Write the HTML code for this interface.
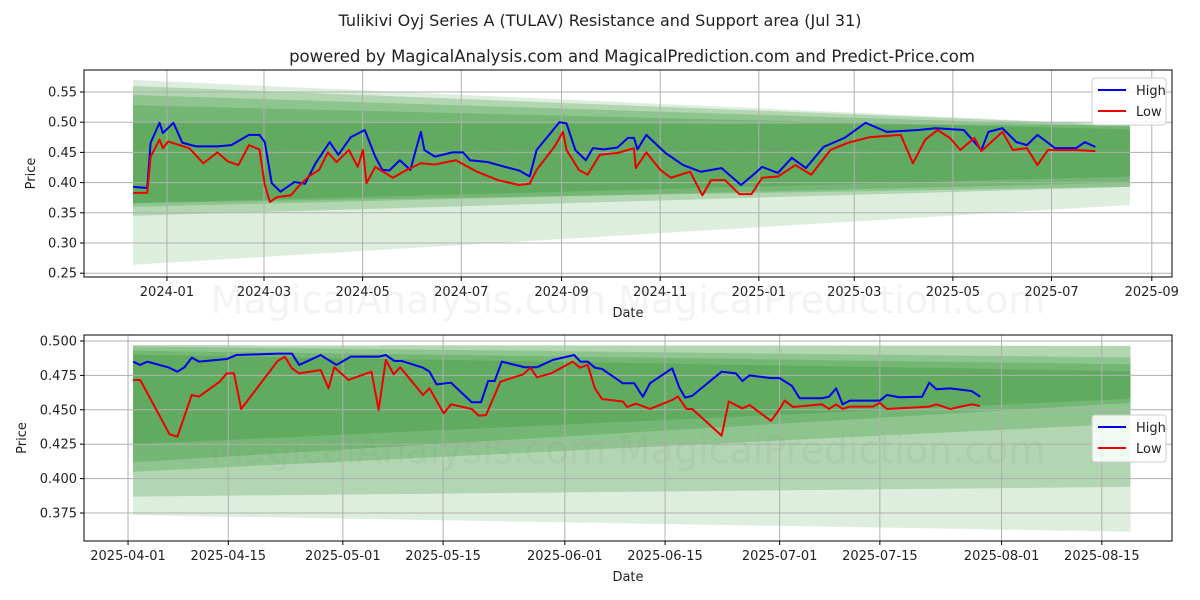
<!DOCTYPE html>
<html><head><meta charset="utf-8"><style>
body{margin:0;background:#fff}
svg{display:block;font-family:"DejaVu Sans","Liberation Sans",sans-serif}
</style></head><body>
<svg id="c" width="1200" height="600" viewBox="0 0 1200 600">
<text x="600" y="26" text-anchor="middle" font-size="16" fill="#222">Tulikivi Oyj Series A (TULAV) Resistance and Support area (Jul 31)</text>
<text x="632" y="62" text-anchor="middle" font-size="16.5" fill="#222">powered by MagicalAnalysis.com and MagicalPrediction.com and Predict-Price.com</text>
</svg>
<script>
// ---------- Top chart data (days from 2024-01-01) ----------
const topHighDays=[-20.9,-12.2,-10.1,-4.6,-2.5,4.0,9.5,18.1,31.2,39.8,50.7,57.2,60.5,64.8,70.2,78.9,85.4,91.9,100.6,106.0,113.6,122.3,128.8,133.2,137.5,144.0,150.5,157.0,159.2,165.7,176.6,183.1,187.4,198.3,209.1,217.8,224.3,228.6,235.1,242.7,247.1,252.5,259.0,263.4,269.9,278.5,285.1,288.8,291,296.4,308.3,319.2,330,343,355,362.6,368,377.8,386.4,395.1,406,419,432,445,464.5,475.4,492.8,503.6,508,516.6,525.3,531.8,538.3,549.2,562.2,567.6,574.1];
const topHighVals=[0.393,0.391,0.466,0.499,0.482,0.499,0.466,0.460,0.460,0.462,0.479,0.479,0.467,0.399,0.385,0.401,0.398,0.432,0.467,0.446,0.475,0.487,0.443,0.421,0.420,0.437,0.421,0.484,0.454,0.443,0.450,0.450,0.437,0.434,0.426,0.420,0.410,0.454,0.475,0.500,0.498,0.454,0.437,0.457,0.455,0.458,0.474,0.474,0.455,0.479,0.449,0.429,0.418,0.424,0.396,0.413,0.426,0.416,0.441,0.424,0.459,0.474,0.499,0.484,0.487,0.490,0.487,0.454,0.484,0.490,0.467,0.462,0.479,0.457,0.457,0.467,0.459];
const topLowDays=[-20.9,-12.2,-10.1,-4.6,-2.5,0.8,13.8,22.5,31.2,37.7,44.2,50.7,57.2,60.5,63.7,68.1,76.7,81.1,87.6,94.1,99.5,104.9,112.5,118,121.2,123.4,128.8,139.7,148.3,157,165.7,178.7,191.7,204.8,217.8,224.3,228.6,239.5,244.9,247.1,254.7,260.1,267.7,278.5,288.8,289.9,296.4,305.1,311.6,323.5,331.1,336.5,345.2,353.9,361.5,368,377.8,388.6,398.4,410.3,421.2,434.2,453.7,461.3,468.9,476.5,484.1,490.6,499.3,503.6,516.6,523.1,531.8,538.3,544.8,562.2,574.1];
const topLowVals=[0.383,0.383,0.443,0.471,0.457,0.468,0.457,0.432,0.450,0.435,0.429,0.462,0.455,0.396,0.368,0.376,0.379,0.393,0.410,0.421,0.450,0.434,0.454,0.426,0.454,0.399,0.426,0.408,0.421,0.432,0.430,0.437,0.418,0.404,0.396,0.398,0.421,0.459,0.484,0.454,0.421,0.413,0.446,0.449,0.457,0.424,0.450,0.421,0.408,0.418,0.379,0.404,0.404,0.381,0.381,0.408,0.410,0.429,0.413,0.454,0.466,0.475,0.479,0.432,0.471,0.487,0.474,0.454,0.474,0.452,0.484,0.454,0.457,0.429,0.454,0.454,0.452];
const topBandStart=-21, topBandEnd=595.5;
const topBandTopL=[0.570,0.560,0.545,0.528,0.500];
const topBandTopR=[0.495,0.495,0.493,0.488,0.495];
const topBandBotL=[0.264,0.345,0.360,0.366,0.366];
const topBandBotR=[0.363,0.393,0.400,0.410,0.393];
const topYTicks=[0.25,0.30,0.35,0.40,0.45,0.50,0.55];
const topXTickDays=[0,60,121,182,244,305,366,425,486,547,609];
const topXTickLabels=["2024-01","2024-03","2024-05","2024-07","2024-09","2024-11","2025-01","2025-03","2025-05","2025-07","2025-09"];
// ---------- Bottom chart data (days from 2025-04-01) ----------
const botHighDays=[0.7,1.7,2.7,5.6,6.9,7.9,8.9,9.9,13.8,15.1,20.9,22.9,23.9,26.9,29.1,31.1,35,36,37.2,38.2,41.2,42.1,43.1,45.1,48,49.3,50.3,51.2,52.2,55.4,57.1,59.3,62.3,63.2,64.2,65.2,66.2,69.1,70.7,71.9,72.9,76,77,77.8,78.8,82.9,84.9,85.8,86.8,89.8,91,92.7,93.8,96.9,97.9,98.9,99.8,100.8,105,106,107.7,110.9,111.9,112.9,114.8,117.8,119];
const botHighVals=[0.485,0.4826,0.485,0.4809,0.4777,0.481,0.4879,0.485,0.4869,0.4898,0.4908,0.4908,0.4826,0.4898,0.4826,0.4886,0.4886,0.4898,0.4855,0.4855,0.4806,0.4777,0.4685,0.4697,0.4555,0.4555,0.4709,0.4709,0.485,0.4809,0.4809,0.4862,0.4898,0.485,0.485,0.4806,0.4797,0.4693,0.4693,0.4595,0.4693,0.4801,0.4661,0.4588,0.4602,0.4777,0.4765,0.4709,0.475,0.473,0.473,0.4675,0.4584,0.4584,0.4595,0.4656,0.454,0.4567,0.4567,0.4608,0.4591,0.4595,0.4697,0.4649,0.4656,0.4637,0.4595];
const botLowDays=[0.7,1.7,5.8,6.9,8.9,9.9,12.8,13.8,14.8,15.8,20.9,21.9,22.9,23.9,26.9,28,28.8,30.8,34,35,36,37.1,38,41.2,42.1,44.1,45.1,48,49,50,52,55.2,56.2,57.1,59.1,62.1,63.1,64.2,65.2,66.2,69.1,69.7,70.9,72.9,76,76.8,78,78.8,82.9,83.9,85.8,86.8,89.8,91,91.7,92.9,96.9,97.9,98.9,99.8,100.8,104,105,106,111.9,112.9,114.8,117.8,119];
const botLowVals=[0.4717,0.4717,0.4322,0.4305,0.4608,0.4596,0.4704,0.4765,0.4765,0.4506,0.4855,0.4886,0.4801,0.4765,0.4789,0.4656,0.4809,0.4717,0.4777,0.4499,0.4862,0.4758,0.4809,0.4608,0.4656,0.4474,0.454,0.4506,0.4457,0.4462,0.4704,0.4758,0.4806,0.4736,0.4765,0.485,0.4806,0.4826,0.4656,0.4578,0.456,0.452,0.4545,0.4506,0.4572,0.4596,0.4506,0.4506,0.4312,0.456,0.451,0.4535,0.4419,0.4506,0.4567,0.452,0.454,0.4506,0.454,0.4506,0.4523,0.4523,0.455,0.4506,0.4523,0.454,0.4506,0.454,0.4528];
const botBandStart=0.7, botBandEnd=140;
const botBandTopL=[0.497,0.497,0.496,0.493,0.490];
const botBandTopR=[0.4965,0.4965,0.488,0.483,0.478];
const botBandBotL=[0.3735,0.3869,0.405,0.412,0.425];
const botBandBotR=[0.3614,0.394,0.440,0.455,0.458];
const botYTicks=[0.375,0.400,0.425,0.450,0.475,0.500];
const botYTickLabels=["0.375","0.400","0.425","0.450","0.475","0.500"];
const botXTickDays=[0,14,30,44,61,75,91,105,122,136];
const botXTickLabels=["2025-04-01","2025-04-15","2025-05-01","2025-05-15","2025-06-01","2025-06-15","2025-07-01","2025-07-15","2025-08-01","2025-08-15"];

const NS="http://www.w3.org/2000/svg";
const svg=document.getElementById('c');
function mk(tag,attrs,parent){const e=document.createElementNS(NS,tag);for(const k in attrs)e.setAttribute(k,attrs[k]);(parent||svg).appendChild(e);return e;}

function drawChart(cfg){
  const {L,R,T,B,x0,x1,y0,y1}=cfg;
  const sx=d=>L+(d-x0)/(x1-x0)*(R-L);
  const sy=v=>B-(v-y0)/(y1-y0)*(B-T);
  const g=mk('g',{});
  
  
  for(let i=0;i<cfg.bTL.length;i++){
    const p=mk('polygon',{points:`${sx(cfg.bs)},${sy(cfg.bTL[i])} ${sx(cfg.be)},${sy(cfg.bTR[i])} ${sx(cfg.be)},${sy(cfg.bBR[i])} ${sx(cfg.bs)},${sy(cfg.bBL[i])}`,fill:'#228b22','fill-opacity':i==0?0.15:0.24},g);
    
    
  }
  cfg.yt.forEach(v=>{const l=mk('line',{x1:L,x2:R,y1:sy(v),y2:sy(v),stroke:'#b0b0b0','stroke-width':1},g);
    });
  cfg.xt.forEach(d=>{const l=mk('line',{x1:sx(d),x2:sx(d),y1:T,y2:B,stroke:'#b0b0b0','stroke-width':1},g);
    });
  const wm=mk('text',{x:(L+R)/2,y:cfg.wmY,'text-anchor':'middle','font-size':38,fill:'#888','fill-opacity':0.1},g);
  wm.textContent='MagicalAnalysis.com     MagicalPrediction.com';
  
  const line=(ds,vs,col,name)=>{const p=mk('polyline',{points:ds.map((d,i)=>sx(d)+','+sy(vs[i])).join(' '),fill:'none',stroke:col,'stroke-width':2,'stroke-linejoin':'round'},g);
    };
  line(cfg.hd,cfg.hv,'#0000ee','high-line');
  line(cfg.ld,cfg.lv,'#ee0000','low-line');
  const fr=mk('rect',{x:L,y:T,width:R-L,height:B-T,fill:'none',stroke:'#000','stroke-width':1},g);
  
  cfg.yt.forEach((v,i)=>{mk('line',{x1:L-4,x2:L,y1:sy(v),y2:sy(v),stroke:'#000'},g);
    const t=mk('text',{x:L-7,y:sy(v)+4.5,'text-anchor':'end','font-size':13,fill:'#222'},g);t.textContent=cfg.ytl[i];
    });
  cfg.xt.forEach((d,i)=>{mk('line',{x1:sx(d),x2:sx(d),y1:B,y2:B+4,stroke:'#000'},g);
    const t=mk('text',{x:sx(d),y:B+19,'text-anchor':'middle','font-size':13,fill:'#222'},g);t.textContent=cfg.xtl[i];
    });
  const xl=mk('text',{x:(L+R)/2,y:B+40,'text-anchor':'middle','font-size':13,fill:'#222'},g);xl.textContent='Date';
  
  const yl=mk('text',{x:0,y:0,'text-anchor':'middle','font-size':13,fill:'#222',transform:`translate(${cfg.ylX},${(T+B)/2}) rotate(-90)`},g);yl.textContent='Price';
  
  const lg=mk('g',{},g);
  
  mk('rect',{x:1092,y:cfg.legY,width:74,height:47,rx:3,fill:'#fff','fill-opacity':0.85,stroke:'#ccc'},lg);
  [['High','#0000ee'],['Low','#ee0000']].forEach((e,i)=>{
    const yy=cfg.legY+12+i*21;
    mk('line',{x1:1098,x2:1126,y1:yy,y2:yy,stroke:e[1],'stroke-width':2},lg);
    const t=mk('text',{x:1136,y:yy+5,'font-size':13,fill:'#222'},lg);t.textContent=e[0];
    
  });
}
drawChart({name:'top-chart',L:84,R:1172,T:70,B:277,x0:-51.3,x1:621.5,y0:0.2437,y1:0.5864,
  bs:topBandStart,be:topBandEnd,bTL:topBandTopL,bTR:topBandTopR,bBL:topBandBotL,bBR:topBandBotR,
  yt:topYTicks,ytl:topYTicks.map(v=>v.toFixed(2)),xt:topXTickDays,xtl:topXTickLabels,
  hd:topHighDays,hv:topHighVals,ld:topLowDays,lv:topLowVals,wmY:163,ylX:35,legY:78});
drawChart({name:'bottom-chart',L:84,R:1172,T:335,B:541,x0:-6.15,x1:145.8,y0:0.35465,y1:0.50436,
  bs:botBandStart,be:botBandEnd,bTL:botBandTopL,bTR:botBandTopR,bBL:botBandBotL,bBR:botBandBotR,
  yt:botYTicks,ytl:botYTickLabels,xt:botXTickDays,xtl:botXTickLabels,
  hd:botHighDays,hv:botHighVals,ld:botLowDays,lv:botLowVals,wmY:463,ylX:26,legY:415});
const wm2=mk('text',{x:628,y:313,'text-anchor':'middle','font-size':38,fill:'#888','fill-opacity':0.1});
wm2.textContent='MagicalAnalysis.com     MagicalPrediction.com';


</script>
</body></html>
